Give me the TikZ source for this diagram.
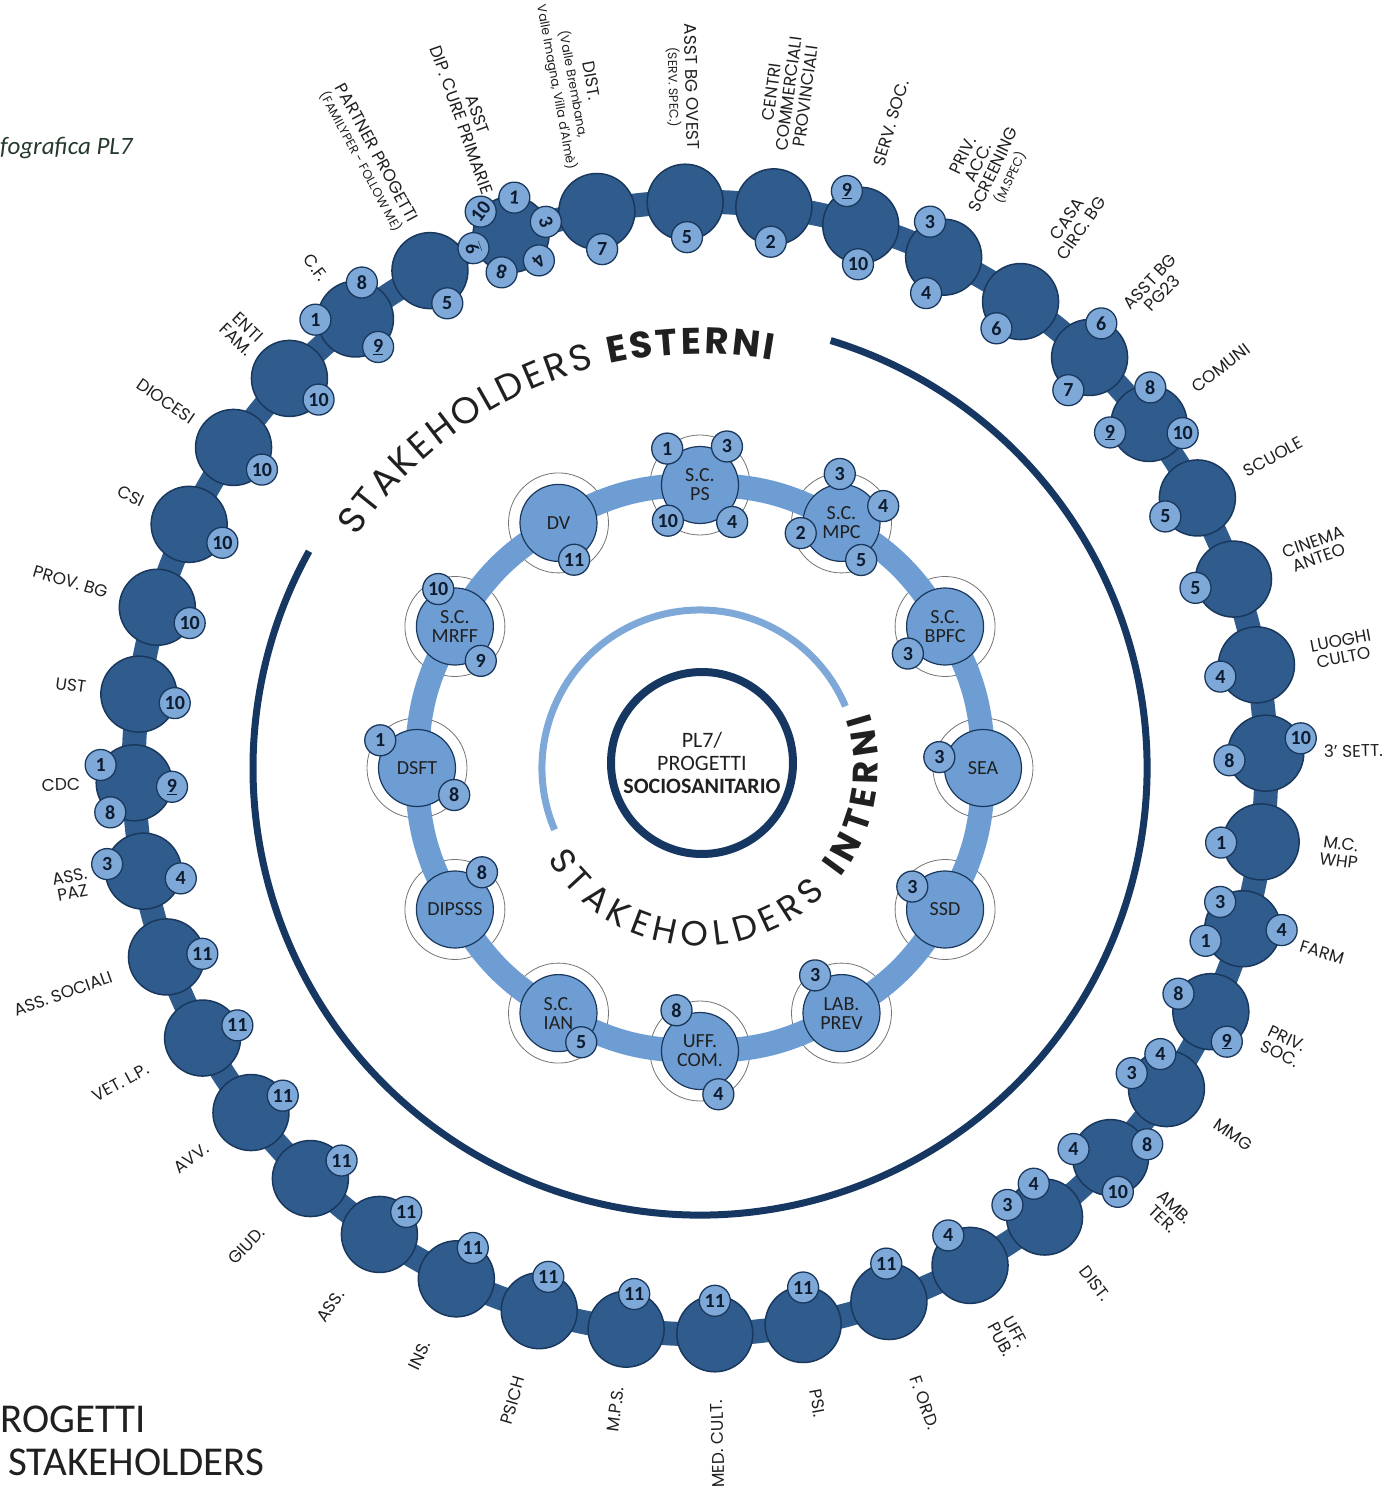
\documentclass[tikz,border=0pt]{standalone}
\usepackage{fontspec}
\setmainfont{Carlito}
\newfontfamily\geo{Poppins}
\usetikzlibrary{decorations.text}

\definecolor{ringblue}{RGB}{47,92,140}
\definecolor{ringline}{RGB}{26,56,93}
\definecolor{dotblue}{RGB}{125,168,215}
\definecolor{innblue}{RGB}{110,157,211}
\definecolor{navy}{RGB}{22,55,98}
\definecolor{ink}{RGB}{32,32,32}
\definecolor{numink}{RGB}{14,28,48}
\definecolor{infogreen}{RGB}{35,58,45}
\protected\def\smalllab{\fontsize{12.5}{13}\selectfont}
\protected\def\nl{\\}
\protected\def\nine{\underline{9}}

\pgfdeclarelayer{bg}
\pgfsetlayers{bg,main}

\begin{document}
\begin{tikzpicture}[x=1pt, y=1pt]
	\tikzset{bigdot/.style={circle, fill=ringblue, draw=ringline, line width=1.5pt, minimum size=76pt, inner sep=0pt},
		numdot/.style={circle, fill=dotblue, draw=ringline, line width=1.3pt, minimum size=31pt, inner sep=0pt, text=numink, font=\fontsize{20}{20}\selectfont\bfseries},
		indot/.style={circle, fill=innblue, draw=ringline, line width=1.2pt, minimum size=77pt, inner sep=0pt, align=center, text=ink, font=\fontsize{20}{19}\selectfont},
		outlab/.style={inner sep=0pt, align=center, text=ink, font=\geo\fontsize{17}{17}\selectfont},
		outband/.style={ringblue, line width=24pt},
		inband/.style={innblue, line width=24pt},
		thinring/.style={black!55, line width=0.8pt}}

	\useasboundingbox (-700,-726) rectangle (690,768);

	% outer ring: stakeholders esterni
	\foreach \lab/\dist [count=\kk] in {
		{ASST BG OVEST\nl{\smalllab (SERV. SPEC.)}}/618,
		{CENTRI\nl COMMERCIALI\nl PROVINCIALI}/622,
		{SERV. SOC.}/628,
		{PRIV.\nl ACC.\nl SCREENING\nl{\smalllab (M.SPEC)}}/620,
		{CASA\nl CIRC. BG}/624,
		{ASST BG\nl PG23}/628,
		{COMUNI}/622,
		{SCUOLE}/620,
		{CINEMA\nl ANTEO}/621,
		{LUOGHI\nl CULTO}/622,
		{3’ SETT.}/624,
		{M.C.\nl WHP}/626,
		{FARM}/626,
		{PRIV.\nl SOC.}/626,
		{MMG}/626,
		{AMB.\nl TER.}/626,
		{DIST.}/630,
		{UFF.\nl PUB.}/628,
		{F. ORD.}/645,
		{PSI.}/632,
		{MED. CULT.}/632,
		{M.P.S.}/624,
		{PSICH}/635,
		{INS.}/636,
		{ASS.}/635,
		{GIUD.}/636,
		{AVV.}/622,
		{VET. L.P.}/628,
		{ASS. SOCIALI}/624,
		{ASS.\nl PAZ}/622,
		{CDC}/620,
		{UST}/619,
		{PROV. BG}/618,
		{CSI}/617,
		{DIOCESI}/615,
		{ENTI\nl FAM.}/612,
		{C.F.}/616,
		{PARTNER PROGETTI\nl{\smalllab (FAMILYPER - FOLLOW ME)}}/616,
		{ASST\nl DIP. CURE PRIMARIE}/612,
		{DIST.\nl{\smalllab (Valle Brembana,}\nl{\smalllab Valle Imagna, Villa d'Almè)}}/612
	}{
		\pgfmathtruncatemacro\ii{\kk-1}
		\pgfmathsetmacro\ang{91.5-9*\ii}
		\pgfmathsetmacro\labrot{cos(\ang)>0.05 ? \ang : \ang+180}
		\pgfmathtruncatemacro\labside{cos(\ang)>0.05}
		\node[bigdot] (o\ii) at (\ang:566) {};
		\ifnum\labside=1
			\node[outlab, anchor=west, rotate=\labrot] (t\ii) at (\ang:\dist) {\lab};
		\else
			\node[outlab, anchor=east, rotate=\labrot] (t\ii) at (\ang:\dist) {\lab};
		\fi
	}

	% numbers on the outer dots: dot/angle/distance/number
	\foreach \ii/\pa/\rr/\nn in {0/273/35/5, 1/265/35/2, 2/112/37/\nine, 2/266/39/10,
		3/111/38/3, 3/244/40/4, 4/228/36/6, 5/71/36/6, 5/237/39/7,
		6/88/36/8, 6/193/40/\nine, 6/344/35/10, 7/210/37/5, 8/193/39/5, 9/198/38/4,
		10/23/38/10, 10/191/37/8, 11/181/40/1, 12/130/35/3, 12/358/39/4, 12/198/39/1,
		13/151/37/8, 13/298/34/\nine, 14/100/35/4, 14/156/38/3,
		15/167/38/4, 15/20/39/8, 15/282/35/10, 16/108/35/4, 16/162/39/3, 17/126/37/4,
		18/94/38/11, 19/90/37/11, 20/90/33/11, 21/77/36/11, 22/75/35/11, 23/62/35/11,
		24/40/35/11, 25/30/36/11, 26/28/36/11, 27/20/37/11, 28/5/36/11,
		29/169/37/3, 29/349/38/4, 30/152/38/1, 30/354/38/\nine, 30/231/38/8,
		31/346/37/10, 32/334/36/10, 33/331/38/10, 34/322/36/10, 35/324/36/10,
		36/181/40/1, 36/80/37/8, 36/309/36/\nine, 37/298/37/5,
		38/143/38/10, 38/85/37/1, 38/20/37/3, 38/317/38/4, 38/256/39/8, 38/200/40/\nine,
		39/278/38/7}{
		\pgfmathsetmacro\numrot{\ii==38 ? \pa-90 : 0}
		\node[numdot, rotate=\numrot] (n\ii-\pa) at ([shift={(\pa:\rr)}]o\ii.center) {\nn};
	}

	% inner ring: stakeholders interni
	\foreach \lab [count=\kk] in {{S.C.\nl PS}, {S.C.\nl MPC}, {S.C.\nl BPFC}, SEA, SSD, {LAB.\nl PREV},
		{UFF.\nl COM.}, {S.C.\nl IAN}, DIPSSS, DSFT, {S.C.\nl MRFF}, DV}{
		\pgfmathtruncatemacro\ii{\kk-1}
		\pgfmathsetmacro\ang{90-30*\ii}
		\node[indot] (i\ii) at (\ang:283) {\lab};
	}
	\foreach \ii/\pa/\rr/\nn in {0/132/49/1, 0/55/47/3, 0/228/48/10, 0/311/49/4,
		1/92/49/3, 1/22/45/4, 1/194/42/2, 1/298/42/5, 2/216/46/3, 3/166/45/3,
		4/145/40/3, 5/125/46/3, 6/120/47/8, 6/293/47/4, 7/308/37/5, 8/54/46/8,
		9/143/46/1, 9/324/46/8, 10/114/41/10, 10/307/43/9, 11/293/40/11}
		\node[numdot] (m\ii-\pa) at ([shift={(\pa:\rr)}]i\ii.center) {\nn};

	% bands and rings behind the dots
	\begin{pgfonlayer}{bg}
		\foreach \ii in {0,...,11}
			\draw[thinring] (i\ii.center) circle[radius=50];
		\foreach \ii in {0,...,11}{
			\pgfmathtruncatemacro\jj{mod(\ii+1,12)}
			\draw[inband] (i\ii.center) to[bend left=15] (i\jj.center);
		}
		\foreach \ii in {0,...,39}{
			\pgfmathtruncatemacro\jj{mod(\ii+1,40)}
			\draw[outband] (o\ii.center) to[bend left=4.5] (o\jj.center);
		}
	\end{pgfonlayer}

	% centre
	\node[circle, draw=navy, line width=8pt, minimum size=182pt, inner sep=0pt, align=center, text=ink, font=\fontsize{22}{23}\selectfont] (pl7) at (2,5) {PL7/\\PROGETTI\\\textbf{SOCIOSANITARIO}};

	\draw[navy, line width=7pt] (73:447) arc[start angle=73, end angle=-209, radius=447];
	\draw[dotblue, line width=7pt] (23:158) arc[start angle=23, end angle=203, radius=158];

	\path[decorate, decoration={text along path, text align=fit to path, text color=ink,
		text={|\geo\fontsize{37}{37}\selectfont|STAKEHOLDERS |\geo\fontsize{37}{37}\selectfont\bfseries|ESTERNI}}]
		(146:414) arc[start angle=146, end angle=80, radius=414];
	\path[decorate, decoration={text along path, text align=fit to path, text color=ink,
		text={|\geo\fontsize{35}{35}\selectfont|STAKEHOLDERS |\geo\fontsize{35}{35}\selectfont\bfseries|INTERNI}}]
		(211:178) arc[start angle=211, end angle=378, radius=178];

	% corner texts
	\node[anchor=base west, inner sep=0pt, text=infogreen, font=\itshape\fontsize{25}{25}\selectfont] (info) at (-700,613) {fografica PL7};
	\node[anchor=base west, inner sep=0pt, text=ink, font=\fontsize{41}{41}\selectfont] (tit1) at (-700,-664) {ROGETTI};
	\node[anchor=base west, inner sep=0pt, text=ink, font=\fontsize{41}{41}\selectfont] (tit2) at (-692,-707) {STAKEHOLDERS};
\end{tikzpicture}
\end{document}
